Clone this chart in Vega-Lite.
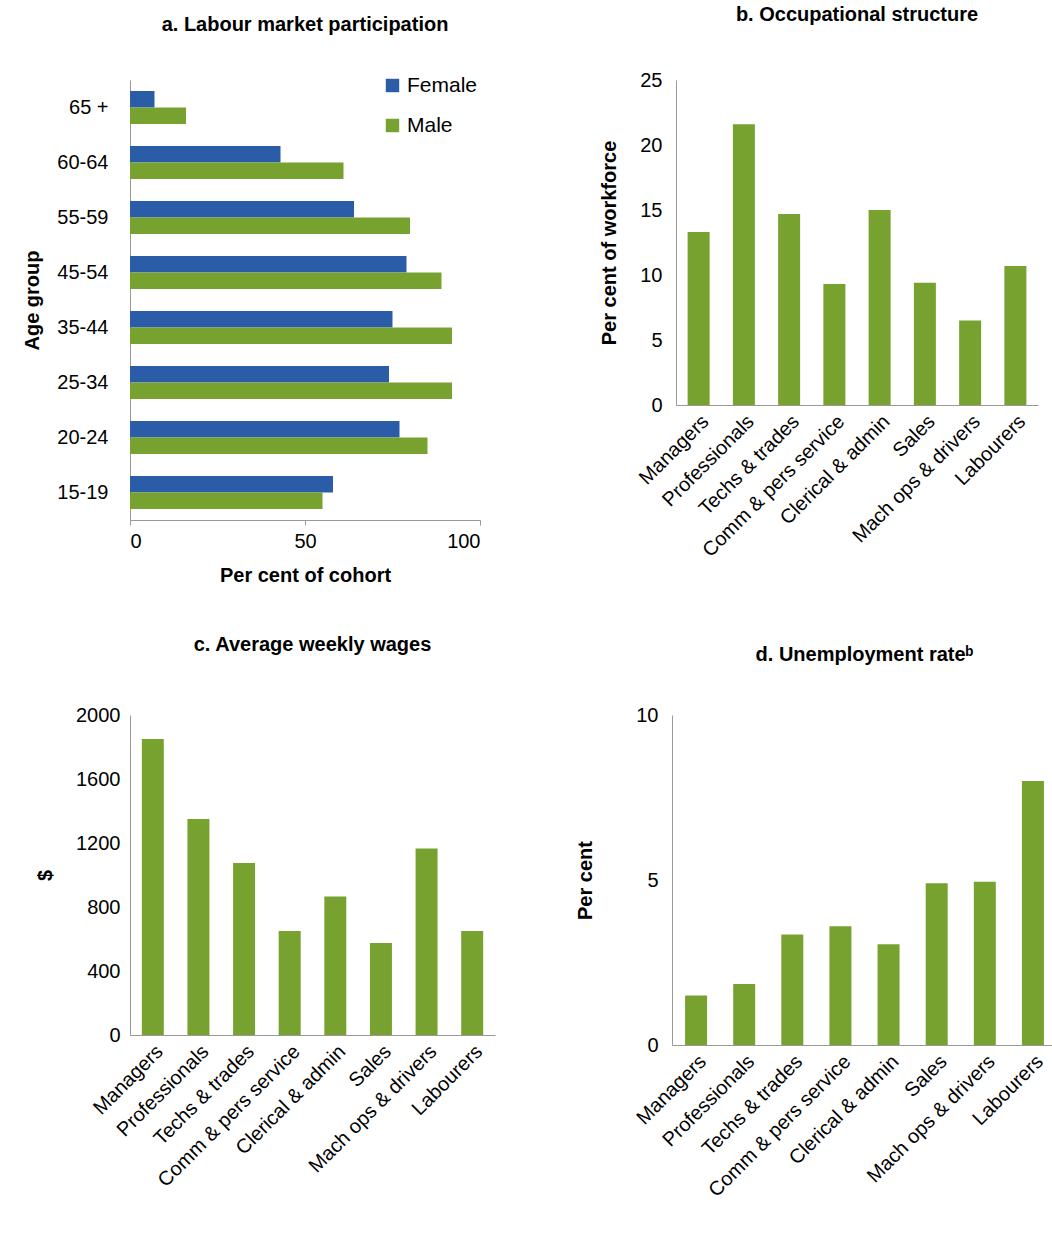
{
"$schema":"https://vega.github.io/schema/vega-lite/v6.json",
"background":"white",
"padding":{"left":22,"top":5,"right":2,"bottom":2},
"config":{"font":"Liberation Sans","view":{"stroke":null},
"axis":{"grid":false,"labelFontSize":20,"titleFontSize":20,"titleFontWeight":"bold","domainColor":"#999","tickColor":"#999","labelColor":"#000","titleColor":"#000","labelPadding":6,"labelLimit":0},
"title":{"fontSize":20,"fontWeight":"bold","anchor":"middle","offset":45}},
"datasets":{
"lab":[
{"age":"65 +","sex":"Female","v":7},{"age":"65 +","sex":"Male","v":16},
{"age":"60-64","sex":"Female","v":43},{"age":"60-64","sex":"Male","v":61},
{"age":"55-59","sex":"Female","v":64},{"age":"55-59","sex":"Male","v":80},
{"age":"45-54","sex":"Female","v":79},{"age":"45-54","sex":"Male","v":89},
{"age":"35-44","sex":"Female","v":75},{"age":"35-44","sex":"Male","v":92},
{"age":"25-34","sex":"Female","v":74},{"age":"25-34","sex":"Male","v":92},
{"age":"20-24","sex":"Female","v":77},{"age":"20-24","sex":"Male","v":85},
{"age":"15-19","sex":"Female","v":58},{"age":"15-19","sex":"Male","v":55}],
"occ":[
{"o":"Managers","s":13.3,"w":1850,"u":1.5},
{"o":"Professionals","s":21.6,"w":1350,"u":1.85},
{"o":"Techs & trades","s":14.7,"w":1075,"u":3.35},
{"o":"Comm & pers service","s":9.3,"w":650,"u":3.6},
{"o":"Clerical & admin","s":15.0,"w":865,"u":3.05},
{"o":"Sales","s":9.4,"w":575,"u":4.9},
{"o":"Mach ops & drivers","s":6.5,"w":1165,"u":4.95},
{"o":"Labourers","s":10.7,"w":650,"u":8.0}]},
"spacing":50,
"vconcat":[
{"spacing":118,"hconcat":[
{"title":"a. Labour market participation","width":350,"height":440,
"data":{"name":"lab"},"mark":{"type":"bar"},
"encoding":{
"y":{"field":"age","type":"nominal","sort":null,"title":"Age  group","axis":{"ticks":false,"labelPadding":22,"titlePadding":14},"scale":{"paddingInner":0.4,"paddingOuter":0.2}},
"yOffset":{"field":"sex","sort":["Female","Male"]},
"x":{"field":"v","type":"quantitative","scale":{"domain":[0,100]},"axis":{"values":[0,50,100],"title":"Per cent of  cohort","titlePadding":14}},
"color":{"field":"sex","scale":{"domain":["Female","Male"],"range":["#2A5CA8","#78A22F"]},
"legend":{"orient":"none","legendX":252,"legendY":-5,"title":null,"labelFontSize":21,"symbolType":"square","symbolSize":180,"rowPadding":18}}}},
{"title":"b. Occupational structure","width":362,"height":325,
"data":{"name":"occ"},"mark":{"type":"bar","color":"#78A22F","width":22},
"encoding":{
"x":{"field":"o","type":"nominal","sort":null,"title":null,"axis":{"labelAngle":-45,"labelAlign":"right","labelBaseline":"top","ticks":false}},
"y":{"field":"s","type":"quantitative","scale":{"domain":[0,25]},"axis":{"values":[0,5,10,15,20,25],"title":"Per cent of  workforce","titlePadding":20,"labelPadding":14,"ticks":false}}}}
]},
{"spacing":80,"hconcat":[
{"title":{"text":"c. Average weekly wages","offset":50},"width":365,"height":320,
"data":{"name":"occ"},"mark":{"type":"bar","color":"#78A22F","width":22},
"encoding":{
"x":{"field":"o","type":"nominal","sort":null,"title":null,"axis":{"labelAngle":-45,"labelAlign":"right","labelBaseline":"top","ticks":false}},
"y":{"field":"w","type":"quantitative","scale":{"domain":[0,2000]},"axis":{"values":[0,400,800,1200,1600,2000],"format":"d","title":"$","titlePadding":20,"labelPadding":10,"ticks":false}}}},
{"title":{"text":"d. Unemployment rate\u1d47","offset":40},"width":385,"height":330,
"data":{"name":"occ"},"mark":{"type":"bar","color":"#78A22F","width":22},
"encoding":{
"x":{"field":"o","type":"nominal","sort":null,"title":null,"axis":{"labelAngle":-45,"labelAlign":"right","labelBaseline":"top","ticks":false}},
"y":{"field":"u","type":"quantitative","scale":{"domain":[0,10]},"axis":{"values":[0,5,10],"title":"Per cent","titlePadding":40,"labelPadding":14,"ticks":false}}}}
]}
]}
